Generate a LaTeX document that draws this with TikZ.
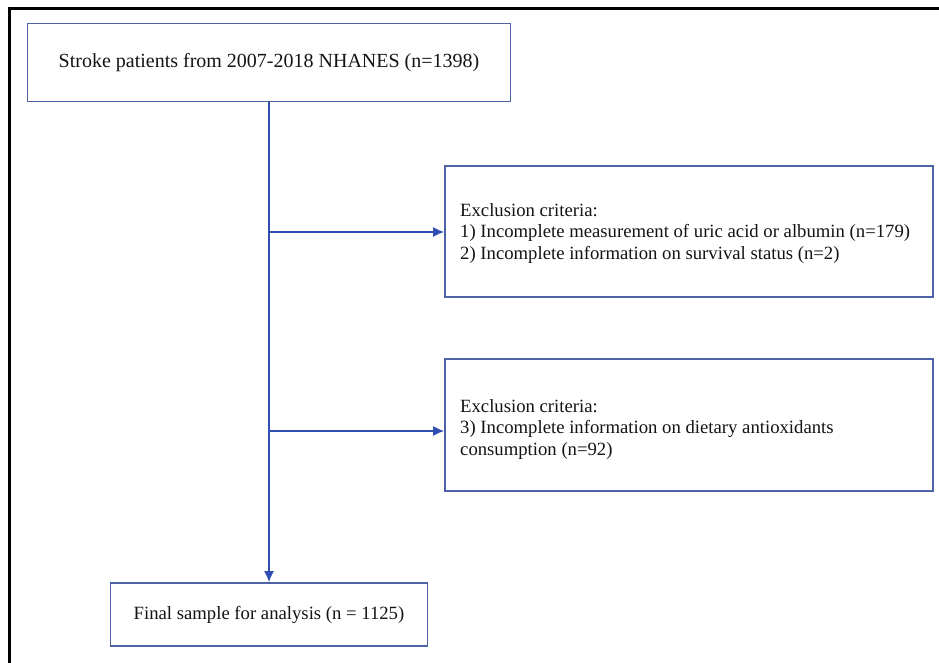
\documentclass[tikz,border=0pt]{standalone}
\usepackage{fontspec}
\setmainfont{Liberation Serif}
\usetikzlibrary{arrows.meta}
\definecolor{boxblue}{RGB}{78,98,168}
\definecolor{arrblue}{RGB}{48,78,180}
\tikzset{
  box/.style={draw=boxblue, line width=1.6pt, inner sep=0pt, align=center, text=black!92},
  extxt/.style={inner sep=0pt, align=left, anchor=west, text=black!92},
  arr/.style={draw=arrblue, line width=1.6pt, -{Latex[length=11pt,width=10pt]}},
  bigtxt/.style={font=\fontsize{20pt}{24pt}\selectfont},
  smtxt/.style={font=\fontsize{18.7pt}{21.5pt}\selectfont},
}
\begin{document}
\begin{tikzpicture}[x=1pt,y=-1pt]
\useasboundingbox (0,0) rectangle (939,662);
\fill[white] (0,0) rectangle (939,662);
\draw[black, line width=3pt] (9,670) -- (9,8) -- (945,8);
\node[box, bigtxt, minimum width=483pt, minimum height=78pt] (top) at (269,62.5) {Stroke patients from 2007-2018 NHANES (n=1398)};
\node[box, minimum width=488pt, minimum height=131pt] (ex1) at (689,231.5) {};
\node[extxt, smtxt] (ex1t) at (460,233) {Exclusion criteria:\\1) Incomplete measurement of uric acid or albumin (n=179)\\2) Incomplete information on survival status (n=2)};
\node[box, minimum width=488pt, minimum height=132pt] (ex2) at (689,425) {};
\node[extxt, smtxt] (ex2t) at (460,429) {Exclusion criteria:\\3) Incomplete information on dietary antioxidants\\consumption (n=92)};
\node[box, smtxt, minimum width=317pt, minimum height=63pt] (fin) at (269,614.5) {Final sample for analysis (n = 1125)};
\coordinate (j1) at (269,232);
\coordinate (j2) at (269,431);
\draw[arr] (top.south) -- (fin.north);
\draw[arr] (j1) -- (j1 -| ex1.west);
\draw[arr] (j2) -- (j2 -| ex2.west);
\end{tikzpicture}
\end{document}
